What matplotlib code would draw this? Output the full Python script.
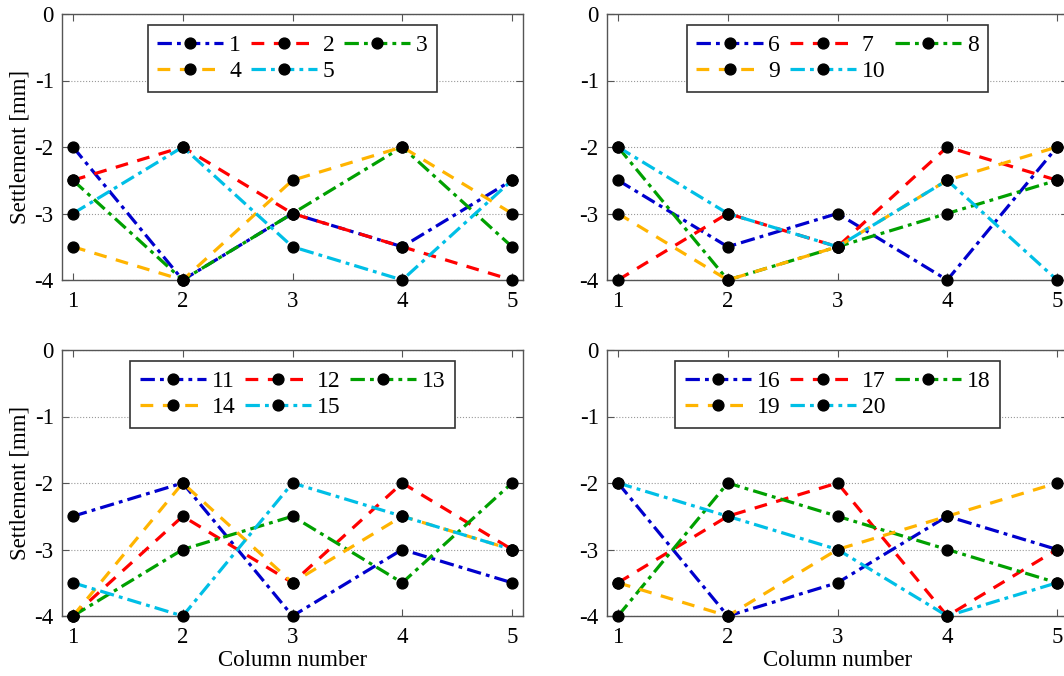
import numpy as np
import matplotlib
matplotlib.use("Agg")
import matplotlib.pyplot as plt

# ==========================================
# DATA
# ==========================================
columns = [1, 2, 3, 4, 5]

panel1_labels = ["1", "2", "3", "4", "5"]
panel1_values = [
    [-2.0, -4.0, -3.0, -3.5, -2.5],
    [-2.5, -2.0, -3.0, -3.5, -4.0],
    [-2.5, -4.0, -3.0, -2.0, -3.5],
    [-3.5, -4.0, -2.5, -2.0, -3.0],
    [-3.0, -2.0, -3.5, -4.0, -2.5],
]

panel2_labels = ["6", "7", "8", "9", "10"]
panel2_values = [
    [-2.5, -3.5, -3.0, -4.0, -2.0],
    [-4.0, -3.0, -3.5, -2.0, -2.5],
    [-2.0, -4.0, -3.5, -3.0, -2.5],
    [-3.0, -4.0, -3.5, -2.5, -2.0],
    [-2.0, -3.0, -3.5, -2.5, -4.0],
]

panel3_labels = ["11", "12", "13", "14", "15"]
panel3_values = [
    [-2.5, -2.0, -4.0, -3.0, -3.5],
    [-4.0, -2.5, -3.5, -2.0, -3.0],
    [-4.0, -3.0, -2.5, -3.5, -2.0],
    [-4.0, -2.0, -3.5, -2.5, -3.0],
    [-3.5, -4.0, -2.0, -2.5, -3.0],
]

panel4_labels = ["16", "17", "18", "19", "20"]
panel4_values = [
    [-2.0, -4.0, -3.5, -2.5, -3.0],
    [-3.5, -2.5, -2.0, -4.0, -3.0],
    [-4.0, -2.0, -2.5, -3.0, -3.5],
    [-3.5, -4.0, -3.0, -2.5, -2.0],
    [-2.0, -2.5, -3.0, -4.0, -3.5],
]

y_ticks = [0, -1, -2, -3, -4]

# ==========================================
# STYLE
# ==========================================
plt.rcParams['font.family'] = ['Liberation Serif', 'DejaVu Serif']
plt.rcParams['axes.unicode_minus'] = False

colors = ["#0000CD", "#FF0000", "#00A000", "#FFB400", "#00BFE6"]
dash_dot = (0, (4.5, 1.6, 1.2, 1.6))
dashed = (0, (4, 3))
dash_styles = [dash_dot, dashed, dash_dot, dashed, dash_dot]

fig = plt.figure(figsize=(10.64, 6.76), dpi=100)
W, H = 1064.0, 676.0

# axes boxes in pixels: left, top, right, bottom
boxes = [
    (62, 14, 523, 280),
    (607, 14, 1068, 280),
    (62, 350, 523, 616),
    (607, 350, 1068, 616),
]
panels = [
    (panel1_labels, panel1_values),
    (panel2_labels, panel2_values),
    (panel3_labels, panel3_values),
    (panel4_labels, panel4_values),
]

# legend is filled row by row in the reference: 1 2 3 / 4 5
leg_order = [0, 3, 1, 4, 2]

for i, ((l, t, r, b), (labels, values)) in enumerate(zip(boxes, panels)):
    ax = fig.add_axes([l / W, 1 - b / H, (r - l) / W, (b - t) / H])
    handles = []
    for j, (lab, vals) in enumerate(zip(labels, values)):
        h, = ax.plot(columns, vals, color=colors[j], linestyle=dash_styles[j],
                     linewidth=2.3, marker='o', markersize=7.8,
                     markerfacecolor='black', markeredgecolor='black',
                     label=lab, clip_on=False, zorder=3)
        handles.append(h)

    ax.set_xlim(0.9, 5.1)
    ax.set_ylim(-4, 0)
    ax.set_xticks(columns)
    ax.set_yticks(y_ticks)
    ax.set_yticklabels([str(v) for v in y_ticks])
    ax.yaxis.grid(True, linestyle=':', color='#999999', linewidth=0.8)
    ax.set_axisbelow(True)
    ax.tick_params(direction='in', top=True, right=True, length=5,
                   width=0.8, color='#555555', labelsize=16.5)
    ax.tick_params(axis='x', pad=8)
    ax.tick_params(axis='y', pad=6)
    for sp in ax.spines.values():
        sp.set_color('#555555')
        sp.set_linewidth(1.0)

    if i % 2 == 0:
        ax.set_ylabel('Settlement [mm]', fontsize=16.5, labelpad=3)
    if i >= 2:
        ax.set_xlabel('Column number', fontsize=16.5, labelpad=1)

    leg = ax.legend([handles[k] for k in leg_order],
                    [labels[k] for k in leg_order],
                    loc='upper center', ncol=3, fontsize=17,
                    handlelength=2.8, handletextpad=0.25, columnspacing=0.4,
                    labelspacing=0.2, borderpad=0.4, borderaxespad=0,
                    frameon=True, fancybox=False, framealpha=1,
                    edgecolor='#333333', bbox_to_anchor=(0.5, 0.959))
    leg.get_frame().set_linewidth(1.2)

fig.savefig("out.png", dpi=100)
